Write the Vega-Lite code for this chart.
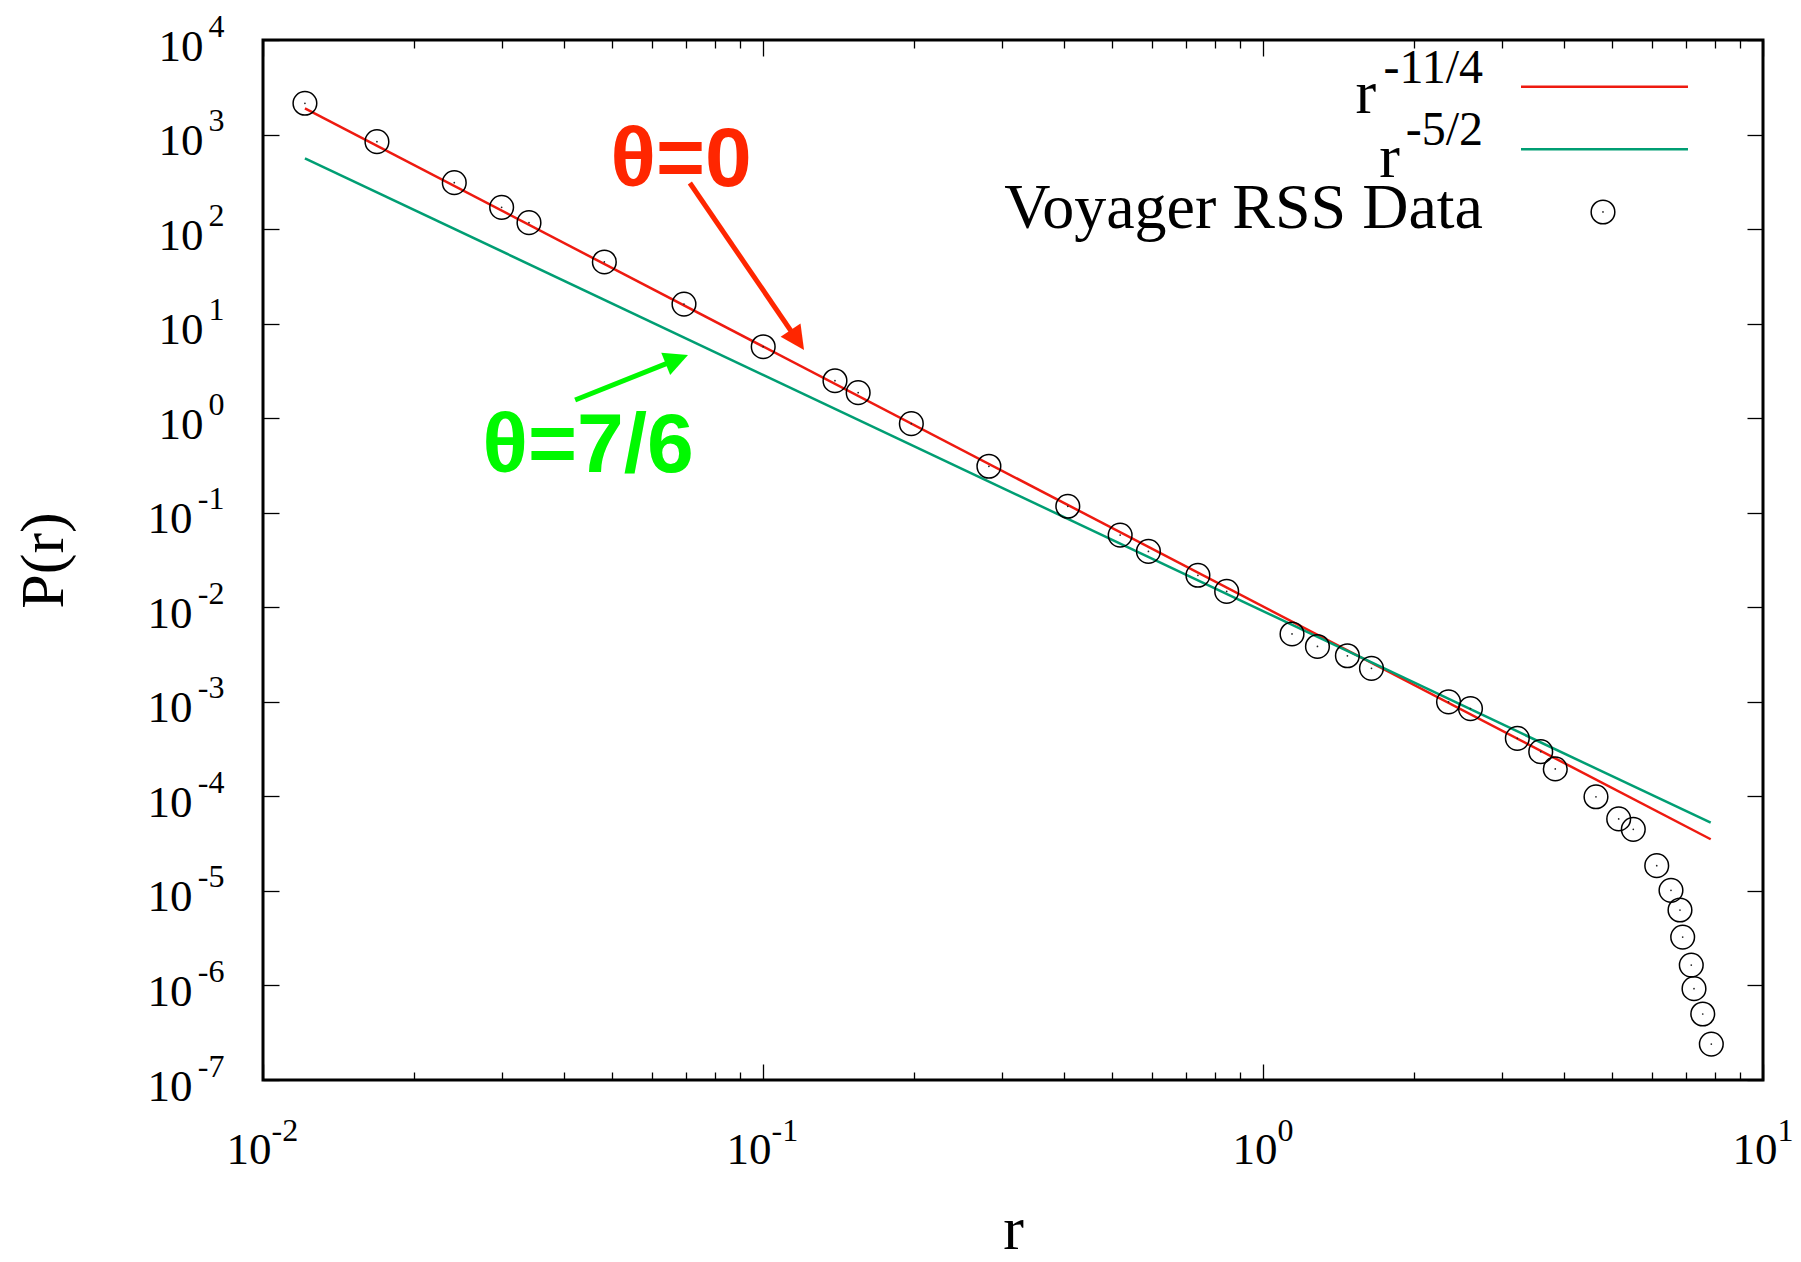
{
  "$schema": "https://vega.github.io/schema/vega-lite/v6.json",
  "width": 1500,
  "height": 1040,
  "autosize": {"type": "none"},
  "padding": {"left": 263, "top": 40, "right": 38, "bottom": 182},
  "background": "white",
  "config": {
    "view": {"stroke": "black", "strokeWidth": 3, "fill": "white"},
    "axis": {
      "grid": false, "domain": false, "labelColor": "black", "tickColor": "black",
      "titleColor": "black", "labelFont": "Liberation Serif", "titleFont": "Liberation Serif",
      "titleFontWeight": "normal", "tickWidth": 1.3, "labelFlush": false, "labelOverlap": false,
      "labelBound": false, "minExtent": 0, "maxExtent": 400
    }
  },
  "resolve": {"axis": {"x": "independent", "y": "independent"}},
  "datasets": {
    "fits": [
      {"series": "r^-11/4", "r": 0.01213, "P": 1895},
      {"series": "r^-11/4", "r": 7.86, "P": 0.0000352},
      {"series": "r^-5/2", "r": 0.01213, "P": 560.7},
      {"series": "r^-5/2", "r": 7.86, "P": 0.0000526}
    ],
    "voyager": [
      {"r": 0.01213, "P": 2141},
      {"r": 0.0169, "P": 840},
      {"r": 0.02413, "P": 309.6},
      {"r": 0.03001, "P": 170},
      {"r": 0.03404, "P": 116.9},
      {"r": 0.04816, "P": 44.9},
      {"r": 0.0695, "P": 16.1},
      {"r": 0.1001, "P": 5.7},
      {"r": 0.1393, "P": 2.49},
      {"r": 0.155, "P": 1.86},
      {"r": 0.198, "P": 0.875},
      {"r": 0.283, "P": 0.31},
      {"r": 0.407, "P": 0.117},
      {"r": 0.518, "P": 0.058},
      {"r": 0.59, "P": 0.039},
      {"r": 0.741, "P": 0.0218},
      {"r": 0.846, "P": 0.0147},
      {"r": 1.143, "P": 0.00522},
      {"r": 1.285, "P": 0.00385},
      {"r": 1.475, "P": 0.00307},
      {"r": 1.648, "P": 0.00226},
      {"r": 2.35, "P": 0.001},
      {"r": 2.6, "P": 0.000848},
      {"r": 3.226, "P": 0.000411},
      {"r": 3.593, "P": 0.000297},
      {"r": 3.842, "P": 0.000195},
      {"r": 4.634, "P": 0.000099},
      {"r": 5.145, "P": 0.0000577},
      {"r": 5.503, "P": 0.0000448},
      {"r": 6.13, "P": 0.0000185},
      {"r": 6.546, "P": 0.00001014},
      {"r": 6.823, "P": 0.00000628},
      {"r": 6.908, "P": 0.00000325},
      {"r": 7.187, "P": 0.000001644},
      {"r": 7.278, "P": 0.000000925},
      {"r": 7.577, "P": 0.000000499},
      {"r": 7.882, "P": 0.00000024}
    ],
    "arrows": [
      {"name": "red", "x": 0.0714, "y": 307, "x2": 0.1171, "y2": 6.7, "tipx": 0.1208, "tipy": 5.26},
      {"name": "green", "x": 0.0421, "y": 1.556, "x2": 0.0673, "y2": 4.19, "tipx": 0.0708, "tipy": 4.66}
    ],
    "notes": [
      {"name": "red", "text": "θ=0", "x": 0.0686, "y": 285.7},
      {"name": "green", "text": "θ=7/6", "x": 0.0447, "y": 0.27}
    ],
    "legendLines": [
      {"series": "r^-11/4", "x": 3.281, "x2": 7.079, "y": 3206},
      {"series": "r^-5/2", "x": 3.281, "x2": 7.079, "y": 698}
    ],
    "legendPoint": [{"r": 4.786, "P": 151.7}],
    "legendText": [
      {"text": "r", "x": 1.683, "y": 1690},
      {"text": "r", "x": 1.879, "y": 358},
      {"text": "Voyager RSS Data", "x": 2.754, "y": 102.7}
    ],
    "legendSup": [
      {"text": "-11/4", "x": 2.754, "y": 3483},
      {"text": "-5/2", "x": 2.754, "y": 775}
    ]
  },
  "layer": [
    {
      "data": {"name": "fits"},
      "mark": {"type": "line", "strokeWidth": 2.5},
      "encoding": {
        "x": {"field": "r", "type": "quantitative", "scale": {"type": "log", "domain": [0.01, 10], "nice": false},
          "axis": {"orient": "bottom", "values": [0.01, 0.1, 1, 10], "labels": false, "ticks": true, "tickSize": -16, "title": null}},
        "y": {"field": "P", "type": "quantitative", "scale": {"type": "log", "domain": [1e-7, 10000], "nice": false},
          "axis": {"orient": "left", "values": [1e-7, 1e-6, 1e-5, 0.0001, 0.001, 0.01, 0.1, 1, 10, 100, 1000, 10000], "labels": false, "ticks": true, "tickSize": -16,
            "title": "P(r)", "titleFontSize": 62, "titleBaseline": "alphabetic", "titlePadding": 200}},
        "color": {"field": "series", "type": "nominal", "scale": {"domain": ["r^-11/4", "r^-5/2"], "range": ["#ee1a10", "#009e73"]}, "legend": null}
      }
    },
    {
      "data": {"name": "voyager"},
      "mark": {"type": "point", "shape": "circle", "filled": false, "size": 560, "stroke": "black", "strokeWidth": 1.5, "opacity": 1},
      "encoding": {
        "x": {"field": "r", "type": "quantitative", "scale": {"type": "log", "domain": [0.01, 10], "nice": false},
          "axis": {"orient": "bottom", "values": [0.02, 0.03, 0.04, 0.05, 0.06, 0.07, 0.08, 0.09, 0.2, 0.3, 0.4, 0.5, 0.6, 0.7, 0.8, 0.9, 2, 3, 4, 5, 6, 7, 8, 9], "labels": false, "ticks": true, "tickSize": -8,
            "title": "r", "titleFontSize": 62, "titleBaseline": "alphabetic", "titlePadding": 168}},
        "y": {"field": "P", "type": "quantitative", "scale": {"type": "log", "domain": [1e-7, 10000], "nice": false},
          "axis": {"orient": "right", "values": [1e-7, 1e-6, 1e-5, 0.0001, 0.001, 0.01, 0.1, 1, 10, 100, 1000, 10000], "labels": false, "ticks": true, "tickSize": -16, "title": null}}
      }
    },
    {
      "data": {"name": "voyager"},
      "mark": {"type": "point", "shape": "circle", "filled": true, "size": 3, "color": "#222222", "opacity": 1},
      "encoding": {
        "x": {"field": "r", "type": "quantitative", "scale": {"type": "log", "domain": [0.01, 10], "nice": false},
          "axis": {"orient": "top", "values": [0.01, 0.1, 1, 10], "labels": false, "ticks": true, "tickSize": -16, "title": null}},
        "y": {"field": "P", "type": "quantitative", "scale": {"type": "log", "domain": [1e-7, 10000], "nice": false},
          "axis": {"orient": "left", "values": [1e-7, 1e-6, 1e-5, 0.0001, 0.001, 0.01, 0.1], "ticks": false, "labelExpr": "'10'", "labelFontSize": 45, "labelAlign": "right", "labelBaseline": "alphabetic", "labelPadding": 71, "labelOffset": 20, "title": null}}
      }
    },
    {
      "data": {"name": "arrows"},
      "transform": [{"filter": "datum.name === 'red'"}],
      "mark": {"type": "rule", "color": "#ff2600", "strokeWidth": 5},
      "encoding": {
        "x": {"field": "x", "type": "quantitative", "scale": {"type": "log", "domain": [0.01, 10], "nice": false},
          "axis": {"orient": "top", "values": [0.02, 0.03, 0.04, 0.05, 0.06, 0.07, 0.08, 0.09, 0.2, 0.3, 0.4, 0.5, 0.6, 0.7, 0.8, 0.9, 2, 3, 4, 5, 6, 7, 8, 9], "labels": false, "ticks": true, "tickSize": -8, "title": null}},
        "y": {"field": "y", "type": "quantitative", "scale": {"type": "log", "domain": [1e-7, 10000], "nice": false},
          "axis": {"orient": "left", "values": [1, 10, 100, 1000, 10000], "ticks": false, "labelExpr": "'10'", "labelFontSize": 45, "labelAlign": "right", "labelBaseline": "alphabetic", "labelPadding": 60, "labelOffset": 20, "title": null}},
        "x2": {"field": "x2"},
        "y2": {"field": "y2"}
      }
    },
    {
      "data": {"name": "arrows"},
      "transform": [{"filter": "datum.name === 'red'"}],
      "mark": {"type": "point", "shape": "M0,0L-1,2L1,2Z", "filled": true, "size": 576, "color": "#ff2600", "opacity": 1, "angle": 145.9},
      "encoding": {
        "x": {"field": "tipx", "type": "quantitative", "scale": {"type": "log", "domain": [0.01, 10], "nice": false},
          "axis": {"orient": "bottom", "values": [0.01, 0.1], "ticks": false, "labelExpr": "'10'", "labelFontSize": 45, "labelAlign": "right", "labelBaseline": "alphabetic", "labelPadding": 83, "labelOffset": 8, "title": null}},
        "y": {"field": "tipy", "type": "quantitative", "scale": {"type": "log", "domain": [1e-7, 10000], "nice": false},
          "axis": {"orient": "left", "values": [1e-7, 1e-6, 1e-5, 0.0001, 0.001, 0.01, 0.1, 1, 10, 100, 1000, 10000], "ticks": false, "labelExpr": "'' + round(log(datum.value) / LN10)", "labelFontSize": 32, "labelAlign": "right", "labelBaseline": "alphabetic", "labelPadding": 39, "labelOffset": -4, "title": null}}
      }
    },
    {
      "data": {"name": "arrows"},
      "transform": [{"filter": "datum.name === 'green'"}],
      "mark": {"type": "rule", "color": "#00f900", "strokeWidth": 5},
      "encoding": {
        "x": {"field": "x", "type": "quantitative", "scale": {"type": "log", "domain": [0.01, 10], "nice": false},
          "axis": {"orient": "bottom", "values": [1, 10], "ticks": false, "labelExpr": "'10'", "labelFontSize": 45, "labelAlign": "right", "labelBaseline": "alphabetic", "labelPadding": 83, "labelOffset": 14, "title": null}},
        "y": {"field": "y", "type": "quantitative", "scale": {"type": "log", "domain": [1e-7, 10000], "nice": false}, "axis": null},
        "x2": {"field": "x2"},
        "y2": {"field": "y2"}
      }
    },
    {
      "data": {"name": "arrows"},
      "transform": [{"filter": "datum.name === 'green'"}],
      "mark": {"type": "point", "shape": "M0,0L-1,2L1,2Z", "filled": true, "size": 576, "color": "#00f900", "opacity": 1, "angle": 68.3},
      "encoding": {
        "x": {"field": "tipx", "type": "quantitative", "scale": {"type": "log", "domain": [0.01, 10], "nice": false},
          "axis": {"orient": "bottom", "values": [0.01, 0.1], "ticks": false, "labelExpr": "'' + round(log(datum.value) / LN10)", "labelFontSize": 32, "labelAlign": "left", "labelBaseline": "alphabetic", "labelPadding": 60, "labelOffset": 8, "title": null}},
        "y": {"field": "tipy", "type": "quantitative", "scale": {"type": "log", "domain": [1e-7, 10000], "nice": false}, "axis": null}
      }
    },
    {
      "data": {"name": "notes"},
      "transform": [{"filter": "datum.name === 'red'"}],
      "mark": {"type": "text", "font": "Liberation Sans", "fontWeight": "bold", "fontSize": 84, "color": "#ff2600", "align": "center", "baseline": "alphabetic"},
      "encoding": {
        "x": {"field": "x", "type": "quantitative", "scale": {"type": "log", "domain": [0.01, 10], "nice": false},
          "axis": {"orient": "bottom", "values": [1, 10], "ticks": false, "labelExpr": "'' + round(log(datum.value) / LN10)", "labelFontSize": 32, "labelAlign": "left", "labelBaseline": "alphabetic", "labelPadding": 60, "labelOffset": 14, "title": null}},
        "y": {"field": "y", "type": "quantitative", "scale": {"type": "log", "domain": [1e-7, 10000], "nice": false}, "axis": null},
        "text": {"field": "text"}
      }
    },
    {
      "data": {"name": "notes"},
      "transform": [{"filter": "datum.name === 'green'"}],
      "mark": {"type": "text", "font": "Liberation Sans", "fontWeight": "bold", "fontSize": 84, "color": "#00f900", "align": "center", "baseline": "alphabetic"},
      "encoding": {
        "x": {"field": "x", "type": "quantitative", "scale": {"type": "log", "domain": [0.01, 10], "nice": false}, "axis": null},
        "y": {"field": "y", "type": "quantitative", "scale": {"type": "log", "domain": [1e-7, 10000], "nice": false}, "axis": null},
        "text": {"field": "text"}
      }
    },
    {
      "data": {"name": "legendLines"},
      "mark": {"type": "rule", "strokeWidth": 2.5},
      "encoding": {
        "x": {"field": "x", "type": "quantitative", "scale": {"type": "log", "domain": [0.01, 10], "nice": false}, "axis": null},
        "x2": {"field": "x2"},
        "y": {"field": "y", "type": "quantitative", "scale": {"type": "log", "domain": [1e-7, 10000], "nice": false}, "axis": null},
        "color": {"field": "series", "type": "nominal", "scale": {"domain": ["r^-11/4", "r^-5/2"], "range": ["#ee1a10", "#009e73"]}, "legend": null}
      }
    },
    {
      "data": {"name": "legendPoint"},
      "mark": {"type": "point", "shape": "circle", "filled": false, "size": 560, "stroke": "black", "strokeWidth": 1.5, "opacity": 1},
      "encoding": {
        "x": {"field": "r", "type": "quantitative", "scale": {"type": "log", "domain": [0.01, 10], "nice": false}, "axis": null},
        "y": {"field": "P", "type": "quantitative", "scale": {"type": "log", "domain": [1e-7, 10000], "nice": false}, "axis": null}
      }
    },
    {
      "data": {"name": "legendPoint"},
      "mark": {"type": "point", "shape": "circle", "filled": true, "size": 3, "color": "#222222", "opacity": 1},
      "encoding": {
        "x": {"field": "r", "type": "quantitative", "scale": {"type": "log", "domain": [0.01, 10], "nice": false}, "axis": null},
        "y": {"field": "P", "type": "quantitative", "scale": {"type": "log", "domain": [1e-7, 10000], "nice": false}, "axis": null}
      }
    },
    {
      "data": {"name": "legendText"},
      "transform": [{"filter": "datum.text === 'r'"}],
      "mark": {"type": "text", "font": "Liberation Serif", "fontSize": 62, "color": "black", "align": "right", "baseline": "alphabetic"},
      "encoding": {
        "x": {"field": "x", "type": "quantitative", "scale": {"type": "log", "domain": [0.01, 10], "nice": false}, "axis": null},
        "y": {"field": "y", "type": "quantitative", "scale": {"type": "log", "domain": [1e-7, 10000], "nice": false}, "axis": null},
        "text": {"field": "text"}
      }
    },
    {
      "data": {"name": "legendText"},
      "transform": [{"filter": "datum.text !== 'r'"}],
      "mark": {"type": "text", "font": "Liberation Serif", "fontSize": 64, "color": "black", "align": "right", "baseline": "alphabetic"},
      "encoding": {
        "x": {"field": "x", "type": "quantitative", "scale": {"type": "log", "domain": [0.01, 10], "nice": false}, "axis": null},
        "y": {"field": "y", "type": "quantitative", "scale": {"type": "log", "domain": [1e-7, 10000], "nice": false}, "axis": null},
        "text": {"field": "text"}
      }
    },
    {
      "data": {"name": "legendSup"},
      "mark": {"type": "text", "font": "Liberation Serif", "fontSize": 48, "color": "black", "align": "right", "baseline": "alphabetic"},
      "encoding": {
        "x": {"field": "x", "type": "quantitative", "scale": {"type": "log", "domain": [0.01, 10], "nice": false}, "axis": null},
        "y": {"field": "y", "type": "quantitative", "scale": {"type": "log", "domain": [1e-7, 10000], "nice": false}, "axis": null},
        "text": {"field": "text"}
      }
    }
  ]
}
